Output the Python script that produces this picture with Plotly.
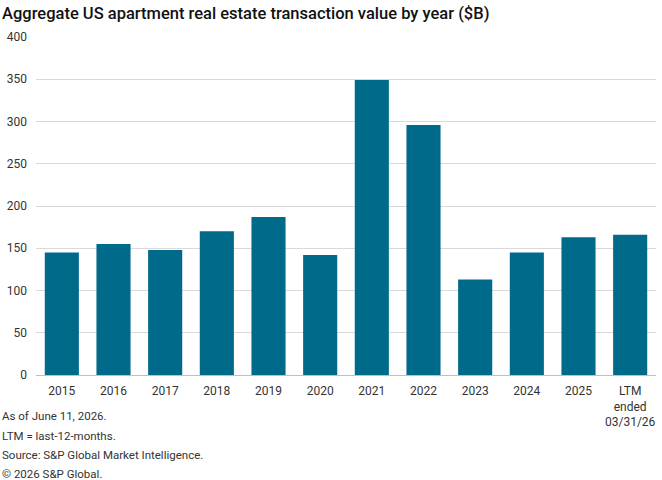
import plotly.graph_objects as go

categories = ["2015", "2016", "2017", "2018", "2019", "2020", "2021", "2022",
              "2023", "2024", "2025", "LTM<br>ended<br>03/31/26"]
values = [145, 155, 148, 170, 187, 142, 349, 296, 113, 145, 163, 166]
y_ticks = [0, 50, 100, 150, 200, 250, 300, 350, 400]
title_text = "Aggregate US apartment real estate transaction value by year ($B)"
notes = ["As of June 11, 2026.", "LTM = last-12-months.",
         "Source: S&P Global Market Intelligence.", "© 2026 S&P Global."]

TFONT = "Roboto, sans-serif"
W, H = 662, 480
ML, MR, MT, MB = 36, 6, 37, 105
PH = H - MT - MB
PW = W - ML - MR

fig = go.Figure(go.Bar(x=categories, y=values, marker_color="#006A8A",
                       marker_line_width=0))

fig.update_layout(
    width=W, height=H,
    margin=dict(l=ML, r=MR, t=MT, b=MB),
    plot_bgcolor="white", paper_bgcolor="white",
    bargap=0.34,
    showlegend=False,
    font=dict(family=TFONT, size=12, color="#333333"),
)
fig.update_yaxes(range=[0, 400], tickvals=y_ticks, showgrid=True,
                 gridcolor="#D9D9D9", gridwidth=1, zeroline=True,
                 zerolinecolor="#BFBFBF", zerolinewidth=1, ticks="",
                 showline=False, ticklabelstandoff=8,
                 tickfont=dict(family=TFONT, size=12, color="#333333"))
fig.update_xaxes(showgrid=False, showline=False, ticks="",
                 ticklabelstandoff=7,
                 tickfont=dict(family=TFONT, size=12, color="#333333"))

fig.add_annotation(text=title_text, xref="paper", yref="paper",
                   x=-ML / PW, y=(H - MB - 14) / PH,
                   xanchor="left", yanchor="middle", showarrow=False,
                   font=dict(family=TFONT, size=16.5, color="#111111", weight=500))

note_y = [416, 435.5, 455, 474]
for t, py in zip(notes, note_y):
    fig.add_annotation(text=t, xref="paper", yref="paper",
                       x=-ML / PW, y=(H - MB - py) / PH,
                       xanchor="left", yanchor="middle", showarrow=False,
                       font=dict(family=TFONT, size=11.5, color="#333333"))

fig.write_html("out.html")
